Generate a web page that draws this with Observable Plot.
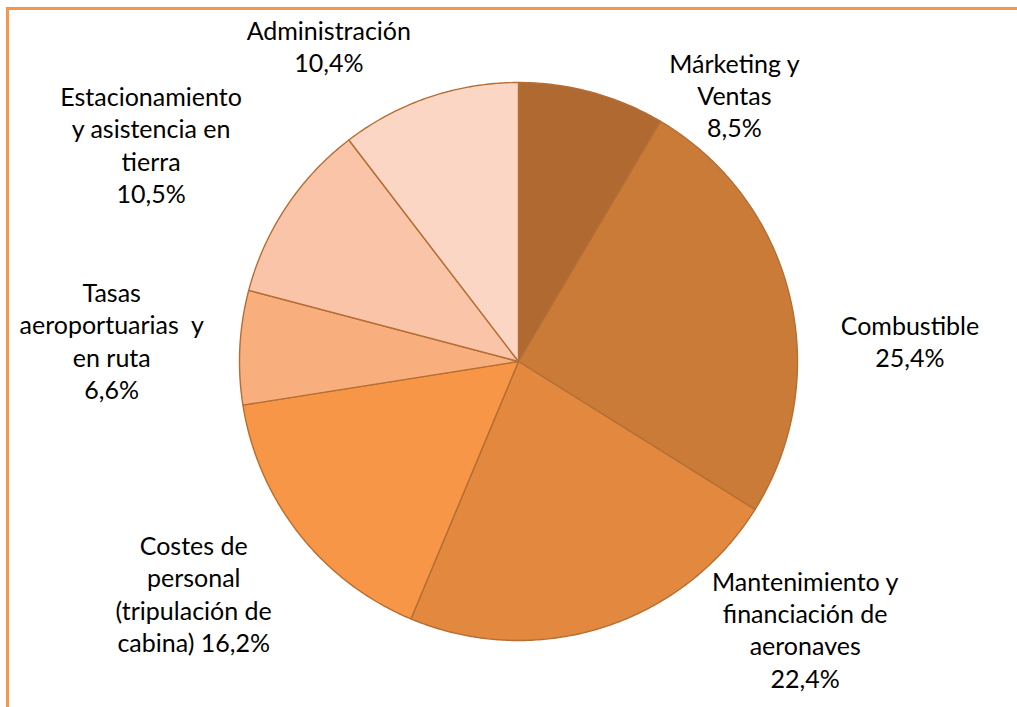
<!DOCTYPE html>
<html>
<head>
<meta charset="utf-8">
<script src="https://cdn.jsdelivr.net/npm/d3@7"></script>
<script src="https://cdn.jsdelivr.net/npm/@observablehq/plot@0.6"></script>
<style>
  html, body { margin: 0; padding: 0; background: #fff; }
  #wrap { position: relative; width: 1017px; height: 707px; overflow: hidden; }
  #frame { position: absolute; left: 6px; top: 7px; width: 1200px; height: 900px;
           border: 3px solid #F79646; box-sizing: border-box; }
  #chart { position: absolute; left: 0; top: 0; }
</style>
</head>
<body>
<div id="wrap"><div id="frame"></div><div id="chart"></div></div>
<script>
// ---- data ----
const categories = [
  "Márketing y\nVentas",
  "Combustible",
  "Mantenimiento y\nfinanciación de\naeronaves",
  "Costes de\npersonal\n(tripulación de\ncabina)",
  "Tasas\naeroportuarias  y\nen ruta",
  "Estacionamiento\ny asistencia en\ntierra",
  "Administración"
];
const shares = [8.5, 25.4, 22.4, 16.2, 6.6, 10.5, 10.4];
const sliceColors = ["#B06A31", "#CB7B38", "#E2883F", "#F79646", "#F9AE7E", "#FAC4A9", "#FBD6C5"];

// ---- label layout (angle in degrees clockwise from top, distance in radii) ----
const labelLayout = [
  [39, 1.23], [87, 1.405], [133, 1.405], [234.5, 1.43], [273, 1.46], [300.6, 1.53], [329, 1.32]
];

const fmt = v => v.toFixed(1).replace(".", ",") + "%";
const rows = categories.map((c, i) => ({name: c, value: shares[i]}));
const arcs = d3.pie().sort(null).value(d => d.value)(rows);

// polygon points for each slice in unit-circle coordinates
const pts = [];
arcs.forEach(a => {
  const n = Math.max(2, Math.ceil((a.endAngle - a.startAngle) / (Math.PI / 360)));
  pts.push({name: a.data.name, x: 0, y: 0});
  for (let k = 0; k <= n; k++) {
    const t = a.startAngle + (a.endAngle - a.startAngle) * k / n;
    pts.push({name: a.data.name, x: Math.sin(t), y: Math.cos(t)});
  }
});

const labels = arcs.map((a, i) => {
  const [deg, r] = labelLayout[i];
  const t = deg * Math.PI / 180;
  const name = a.data.name;
  const text = name.startsWith("Costes") ? name + " " + fmt(a.data.value) : name + "\n" + fmt(a.data.value);
  return {text, x: r * Math.sin(t), y: r * Math.cos(t)};
});

const R = 279, cx = 518, cy = 361, W = 1017, H = 707;

const chart = Plot.plot({
  width: W, height: H,
  marginLeft: cx - R, marginRight: W - (cx + R),
  marginTop: cy - R, marginBottom: H - (cy + R),
  x: {domain: [-1, 1], axis: null},
  y: {domain: [-1, 1], axis: null},
  color: {domain: categories, range: sliceColors},
  style: {fontFamily: "Lato, 'Open Sans', sans-serif", background: "transparent", overflow: "visible"},
  marks: [
    Plot.line(pts, {x: "x", y: "y", z: "name", fill: "name", stroke: "#B56E33",
      strokeWidth: 1.4, curve: "linear-closed", strokeLinejoin: "round"}),
    Plot.text(labels, {x: "x", y: "y", text: "text", fontSize: 25, lineHeight: 1.29,
      fill: "#000", textAnchor: "middle", lineAnchor: "middle"})
  ]
});
document.getElementById("chart").appendChild(chart);
</script>
</body>
</html>
